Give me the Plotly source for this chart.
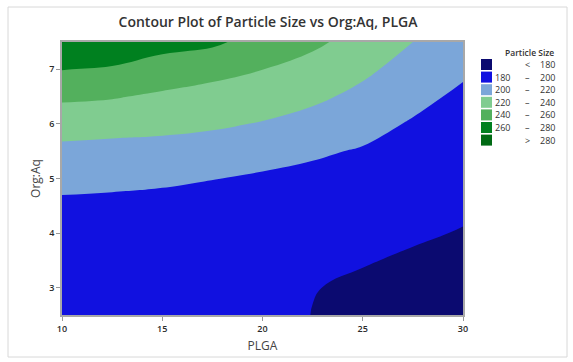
import plotly.graph_objects as go

# grid (PLGA on x, Org:Aq on y)
plga = [10, 12.5, 15, 17.5, 20, 22.5, 25, 27.5, 30]
org_aq = [2.5, 3.0, 3.5, 4.0, 4.5, 5.0, 5.5, 6.0, 6.5, 7.0, 7.5]

# particle size, one list per PLGA column (values along Org:Aq)
col_10 = [186.1, 185.3, 186.9, 190.7, 196.7, 205.0, 215.5, 228.3, 243.3, 260.6, 280.3]
col_12_5 = [186.6, 185.6, 186.8, 190.3, 196.0, 204.0, 214.2, 226.6, 241.4, 257.6, 277.5]
col_15 = [187.5, 186.5, 187.3, 190.2, 195.0, 202.6, 213.5, 225.0, 237.0, 251.5, 267.0]
col_17_5 = [188.5, 187.5, 188.0, 190.5, 194.5, 200.4, 211.6, 222.6, 233.3, 245.9, 263.5]
col_20 = [188.5, 187.5, 187.8, 189.8, 193.0, 197.2, 208.0, 218.9, 229.4, 240.2, 252.0]
col_22_5 = [179.6, 180.6, 183.3, 186.6, 190.2, 194.8, 202.8, 213.5, 223.6, 233.5, 243.5]
col_25 = [173.5, 177.3, 181.0, 184.6, 188.5, 192.8, 198.3, 207.1, 215.5, 223.5, 233.0]
col_27_5 = [170.0, 174.0, 178.0, 182.0, 185.5, 189.0, 193.0, 198.0, 206.3, 213.0, 220.0]
col_30 = [168.0, 172.0, 175.5, 179.2, 182.5, 185.3, 188.3, 191.5, 195.8, 203.6, 209.0]

columns = [col_10, col_12_5, col_15, col_17_5, col_20, col_22_5, col_25, col_27_5, col_30]

band_colors = ["#0b0a70", "#1111e0", "#7ba6d9", "#80cc90", "#53b05d", "#00801f", "#006a14"]
left_labels = ["", "180", "200", "220", "240", "260", ""]
mid_labels = ["<", "–", "–", "–", "–", "–", ">"]
right_labels = ["180", "200", "220", "240", "260", "280", "280"]

z = [[columns[j][i] for j in range(len(plga))] for i in range(len(org_aq))]

ncol = len(band_colors)
colorscale = [[k / (ncol - 1), c] for k, c in enumerate(band_colors)]

fig = go.Figure()
fig.add_trace(go.Contour(
    x=plga, y=org_aq, z=z,
    autocontour=False,
    contours=dict(start=180, end=280, size=20, coloring="fill", showlines=False),
    colorscale=colorscale,
    line=dict(width=0, smoothing=1.3),
    showscale=False,
    hoverinfo="skip",
))

font_family = "Open Sans, Noto Sans, sans-serif"

fig.update_layout(
    width=573, height=362,
    margin=dict(l=62, r=110, t=42, b=47),
    paper_bgcolor="white", plot_bgcolor="white",
    showlegend=False,
    title=dict(text="Contour Plot of Particle Size vs Org:Aq, PLGA",
               x=268 / 573, xanchor="center", y=1 - 22 / 362, yanchor="middle",
               font=dict(family=font_family, size=14, color="#333333", weight=600)),
    xaxis=dict(range=[10, 30], tickvals=[10, 15, 20, 25, 30], ticks="outside", ticklen=4,
               tickcolor="#999999", showline=True, linecolor="#a8a8a8", linewidth=1.5, mirror=True,
               showgrid=False, zeroline=False,
               tickfont=dict(family=font_family, size=9, color="#2a2a2a", weight=600),
               title=dict(text="PLGA", font=dict(family=font_family, size=12, color="#444444"), standoff=8)),
    yaxis=dict(range=[2.5, 7.5], tickvals=[3, 4, 5, 6, 7], ticks="outside", ticklen=4,
               tickcolor="#999999", showline=True, linecolor="#a8a8a8", linewidth=1.5, mirror=True,
               showgrid=False, zeroline=False,
               tickfont=dict(family=font_family, size=9, color="#2a2a2a", weight=600),
               title=dict(text="Org:Aq", font=dict(family=font_family, size=12, color="#444444"), standoff=6)),
)

def px_x(p):
    return (p - 62) / 401

def px_y(p):
    return (315 - p) / 273

# outer frame
fig.add_shape(type="rect", xref="paper", yref="paper",
              x0=px_x(8), x1=px_x(567), y0=px_y(357), y1=px_y(7),
              line=dict(color="#d8d8d8", width=1), fillcolor="rgba(0,0,0,0)", layer="below")

# legend
fig.add_annotation(xref="paper", yref="paper", x=px_x(529), y=px_y(53), text="Particle Size",
                   showarrow=False, xanchor="center", yanchor="middle",
                   font=dict(family=font_family, size=8.5, color="#333333", weight=600))
row0 = 64.5
step = 12.6
for k in range(ncol):
    yc = row0 + k * step
    fig.add_shape(type="rect", xref="paper", yref="paper",
                  x0=px_x(481), x1=px_x(492), y0=px_y(yc + 5.5), y1=px_y(yc - 5.5),
                  line=dict(width=0), fillcolor=band_colors[k])
    if left_labels[k]:
        fig.add_annotation(xref="paper", yref="paper", x=px_x(512), y=px_y(yc), text=left_labels[k],
                           showarrow=False, xanchor="right", yanchor="middle",
                           font=dict(family=font_family, size=9, color="#333333"))
    fig.add_annotation(xref="paper", yref="paper", x=px_x(527), y=px_y(yc), text=mid_labels[k],
                       showarrow=False, xanchor="center", yanchor="middle",
                       font=dict(family=font_family, size=9, color="#333333"))
    fig.add_annotation(xref="paper", yref="paper", x=px_x(557), y=px_y(yc), text=right_labels[k],
                       showarrow=False, xanchor="right", yanchor="middle",
                       font=dict(family=font_family, size=9, color="#333333"))

fig.write_html("out.html")
